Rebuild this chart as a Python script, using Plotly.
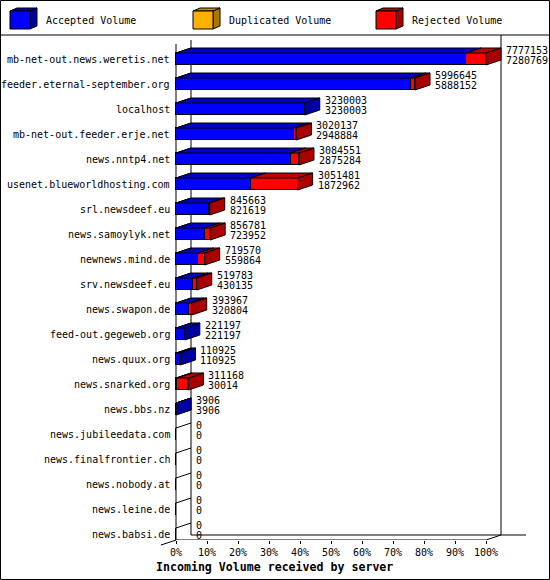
import plotly.graph_objects as go

# Incoming volume per server (bytes)
servers = [
    "mb-net-out.news.weretis.net", "feeder.eternal-september.org", "localhost",
    "mb-net-out.feeder.erje.net", "news.nntp4.net", "usenet.blueworldhosting.com",
    "srl.newsdeef.eu", "news.samoylyk.net", "newnews.mind.de", "srv.newsdeef.eu",
    "news.swapon.de", "feed-out.gegeweb.org", "news.quux.org", "news.snarked.org",
    "news.bbs.nz", "news.jubileedata.com", "news.finalfrontier.ch",
    "news.nobody.at", "news.leine.de", "news.babsi.de",
]
total_volume = [7777153, 5996645, 3230003, 3020137, 3084551, 3051481, 845663,
                856781, 719570, 519783, 393967, 221197, 110925, 311168, 3906,
                0, 0, 0, 0, 0]
accepted_volume = [7280769, 5888152, 3230003, 2948884, 2875284, 1872962, 821619,
                   723952, 559864, 430135, 320804, 221197, 110925, 30014, 3906,
                   0, 0, 0, 0, 0]
duplicated_volume = [0] * 20
tick_values = [0, 10, 20, 30, 40, 50, 60, 70, 80, 90, 100]
tick_labels = [f"{t}%" for t in tick_values]

rejected_volume = [t - a - d for t, a, d in zip(total_volume, accepted_volume, duplicated_volume)]
vmax = max(total_volume)

def pct(v):
    return v / vmax * 100.0

W, H = 550, 580
BOTTOM = 540            # pixel row of the front floor line
K = 100.0 / 310         # x units per pixel
DX = 15 * K             # depth offset in x
DY = 5 / 25             # depth offset in y (one row = 25 px)
HALF = 6 / 25           # half bar height
FONT = "DejaVu Sans Mono"

def px(x):
    return x / W

def py(y):
    return (BOTTOM - y) / BOTTOM

rows = list(range(len(servers)))
series = [
    ("Accepted Volume", accepted_volume, "#0000FF", "#0000C4", "#0000A0"),
    ("Duplicated Volume", duplicated_volume, "#FFB000", "#C89000", "#A87800"),
    ("Rejected Volume", rejected_volume, "#FF0000", "#C00000", "#A80000"),
]

fig = go.Figure()
for name, vals, front, top, side in series:
    fig.add_trace(go.Bar(
        x=[pct(v) for v in vals], y=rows, orientation="h", name=name,
        width=2 * HALF, marker=dict(color=front, line=dict(color="black", width=1)),
        showlegend=False, hoverinfo="x+name",
    ))

shapes = []
line = dict(color="black", width=1)

# left wall hatching and frame
for i in rows:
    shapes.append(dict(type="line", xref="x", yref="y", x0=0, y0=i - HALF,
                       x1=DX, y1=i - HALF - DY, line=line, layer="below"))
front_floor = (BOTTOM - 59) / 25
back_floor = front_floor - DY
frame = [
    (0, (44 - 59) / 25, 0, front_floor),
    (DX, (40 - 59) / 25, DX, back_floor),
    (100 + DX, (35 - 59) / 25, 100 + DX, back_floor),
    (DX, back_floor, (526 - 176) * K, back_floor),
    (0, front_floor, 100, front_floor),
    (100, front_floor, 100 + DX, back_floor),
]
for x0, y0, x1, y1 in frame:
    shapes.append(dict(type="line", xref="x", yref="y", x0=x0, y0=y0, x1=x1, y1=y1,
                       line=line, layer="below"))
shapes.append(dict(type="line", xref="paper", yref="paper", x0=px(161), y0=py(545),
                   x1=px(176), y1=py(540), line=line))

# 3D top and side faces of the bars
for i in rows:
    start = 0.0
    last = None
    for name, vals, front, top, side in series:
        if vals[i] <= 0:
            continue
        end = start + pct(vals[i])
        yt = i - HALF
        shapes.append(dict(type="path", xref="x", yref="y", fillcolor=top, line=line,
                           path=f"M{start},{yt} L{start + DX},{yt - DY} L{end + DX},{yt - DY} L{end},{yt} Z"))
        start = end
        last = side
    if last is not None:
        shapes.append(dict(type="path", xref="x", yref="y", fillcolor=last, line=line,
                           path=f"M{start},{i - HALF} L{start + DX},{i - HALF - DY} "
                                f"L{start + DX},{i + HALF - DY} L{start},{i + HALF} Z"))

# legend boxes
shapes.append(dict(type="line", xref="paper", yref="paper", x0=0, y0=py(35), x1=1, y1=py(35), line=line))
shapes.append(dict(type="rect", xref="paper", yref="paper", x0=px(0.5), y0=py(0.5),
                   x1=px(549.5), y1=py(579.5), line=line))
annotations = []
for (name, vals, front, top, side), x0 in zip(series, [10, 193, 376]):
    shapes.append(dict(type="path", xref="paper", yref="paper", fillcolor=side, line=line,
                       path=f"M{px(x0 + 20)},{py(11)} L{px(x0 + 27)},{py(8)} L{px(x0 + 27)},{py(26)} "
                            f"L{px(x0 + 20)},{py(29)} Z"))
    shapes.append(dict(type="path", xref="paper", yref="paper", fillcolor=top, line=line,
                       path=f"M{px(x0)},{py(11)} L{px(x0 + 7)},{py(8)} L{px(x0 + 27)},{py(8)} "
                            f"L{px(x0 + 20)},{py(11)} Z"))
    shapes.append(dict(type="rect", xref="paper", yref="paper", fillcolor=front, line=line,
                       x0=px(x0), y0=py(11), x1=px(x0 + 20), y1=py(29)))
    annotations.append(dict(xref="paper", yref="paper", x=px(x0 + 34), y=py(20), text=name,
                            xanchor="left", yanchor="middle", showarrow=False,
                            font=dict(family=FONT, size=10, color="black")))

# category labels and value labels
for i in rows:
    annotations.append(dict(xref="x", yref="y", x=0, y=i, text=servers[i], xshift=-4,
                            xanchor="right", yanchor="middle", showarrow=False,
                            font=dict(family=FONT, size=10, color="black")))
    xe = pct(total_volume[i]) + DX
    for txt, shift in [(str(total_volume[i]), 8.5), (str(accepted_volume[i]), -1.5)]:
        annotations.append(dict(xref="x", yref="y", x=xe, y=i, text=txt, xshift=3, yshift=shift,
                                xanchor="left", yanchor="middle", showarrow=False,
                                font=dict(family=FONT, size=10, color="black")))

annotations.append(dict(xref="paper", yref="paper", x=px(274), y=py(567),
                        text="<b>Incoming Volume received by server</b>",
                        xanchor="center", yanchor="middle", showarrow=False,
                        font=dict(family=FONT, size=11.6, color="black")))

fig.update_layout(
    width=W, height=H, barmode="stack", bargap=0,
    margin=dict(l=0, r=0, t=0, b=H - BOTTOM, pad=0),
    paper_bgcolor="white", plot_bgcolor="white",
    xaxis=dict(range=[-176 * K, (W - 176) * K], tickvals=tick_values, ticktext=tick_labels,
               ticks="outside", ticklen=3, tickcolor="black", showgrid=False, zeroline=False,
               showline=False, fixedrange=True,
               tickfont=dict(family=FONT, size=10, color="black")),
    yaxis=dict(range=[front_floor, -59 / 25], visible=False, fixedrange=True),
    shapes=shapes, annotations=annotations,
)

# drop the browser's default body margin so the 550x580 figure fills the window
fig.write_html("out.html", config={"displayModeBar": False},
               post_script="document.body.style.margin='0';")
